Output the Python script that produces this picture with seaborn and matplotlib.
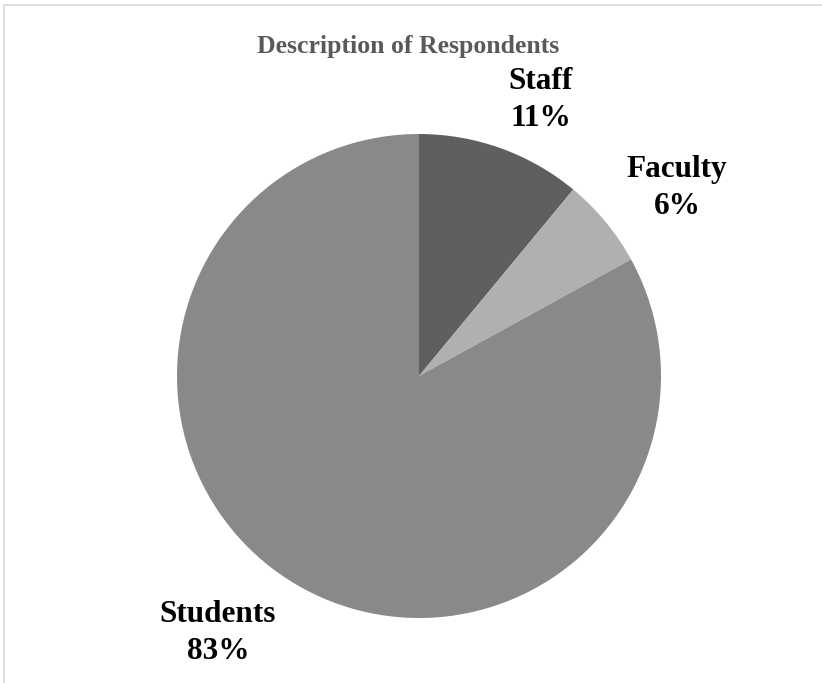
import matplotlib
matplotlib.use("Agg")
import matplotlib.pyplot as plt
from matplotlib.lines import Line2D
import seaborn as sns

categories = ["Staff", "Faculty", "Students"]
values = [11, 6, 83]
colors = ["#5f5f5f", "#b0b0b0", "#898989"]
title = "Description of Respondents"

sns.set_theme(style="white")
plt.rcParams['font.family'] = ['Liberation Serif', 'DejaVu Serif']

W, H = 822, 683
fig = plt.figure(figsize=(W / 100, H / 100), dpi=100)
fig.patch.set_facecolor("white")

cx, cy, r = 419, 376, 242
ax = fig.add_axes([(cx - r) / W, (H - cy - r) / H, 2 * r / W, 2 * r / H])
ax.pie(values, colors=colors, startangle=90, counterclock=False, radius=1,
       wedgeprops=dict(linewidth=0))
ax.set_xlim(-1, 1)
ax.set_ylim(-1, 1)
ax.set_aspect("equal")
ax.axis("off")

# figure border (light gray)
fig.add_artist(Line2D([4 / W, 4 / W], [0, 1 - 5 / H], transform=fig.transFigure,
                      color="#d9d9d9", lw=1.2))
fig.add_artist(Line2D([4 / W, 1], [1 - 5 / H, 1 - 5 / H], transform=fig.transFigure,
                      color="#d9d9d9", lw=1.2))

fig.text(408 / W, 1 - 46 / H, title, ha="center", va="center",
         fontsize=18.5, fontweight="bold", color="#595959")

label_pos = {"Staff": (541, 100), "Faculty": (677, 188), "Students": (218, 633)}
for cat, v in zip(categories, values):
    x, y = label_pos[cat]
    fig.text(x / W, 1 - y / H, f"{cat}\n{v}%", ha="center", va="center",
             fontsize=22.5, fontweight="bold", color="black", linespacing=1.33)

fig.savefig("out.png", dpi=100, facecolor="white")
